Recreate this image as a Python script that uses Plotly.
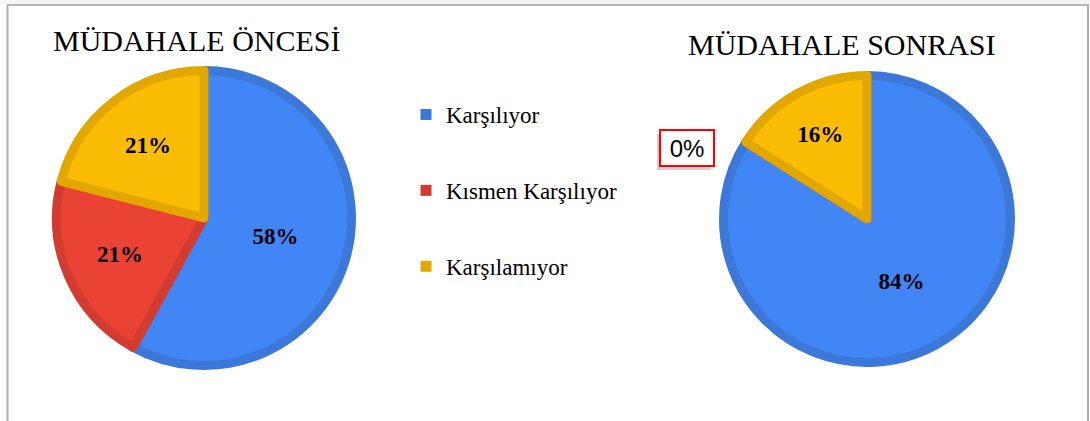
import plotly.graph_objects as go

categories = ["Karşılıyor", "Kısmen Karşılıyor", "Karşılamıyor"]
before_values = [58, 21, 21]
after_values = [84, 0, 16]
titles = ["MÜDAHALE ÖNCESİ", "MÜDAHALE SONRASI"]

fill_colors = ["#4285F4", "#EA4335", "#FBBC04"]
edge_colors = ["#3C78D8", "#D23C30", "#E2A800"]

W, H = 1090, 421
EDGE = 9


def dom(cx, cy, r):
    r = r - EDGE / 2
    return dict(x=[(cx - r) / W, (cx + r) / W], y=[(H - cy - r) / H, (H - cy + r) / H])


def pie(values, domain):
    return go.Pie(
        labels=categories,
        values=values,
        sort=False,
        direction="clockwise",
        rotation=0,
        domain=domain,
        text=[f"{v}%" if v > 0 else "" for v in values],
        textinfo="text",
        textposition="inside",
        insidetextorientation="horizontal",
        textfont=dict(family="Liberation Serif", size=23, color="black", weight="bold"),
        marker=dict(colors=fill_colors, line=dict(color=edge_colors, width=EDGE)),
        showlegend=False,
        hoverinfo="skip",
    )


fig = go.Figure()
fig.add_trace(pie(before_values, dom(204, 218, 152)))
fig.add_trace(pie(after_values, dom(867, 219, 148)))

# legend entries
for i, c in enumerate(categories):
    fig.add_trace(go.Scatter(
        x=[None], y=[None], mode="markers", name=c,
        marker=dict(symbol="square", size=11, color=edge_colors[i]),
        legendgroup=c, showlegend=True,
    ))

fig.update_layout(
    width=W, height=H,
    margin=dict(l=0, r=0, t=0, b=0),
    paper_bgcolor="white", plot_bgcolor="white",
    xaxis=dict(visible=False), yaxis=dict(visible=False),
    legend=dict(
        x=406 / W, y=1 - 93 / H, xanchor="left", yanchor="top",
        font=dict(family="Liberation Serif", size=23, color="black"),
        tracegroupgap=43, itemwidth=30, bgcolor="rgba(0,0,0,0)",
    ),
)

# titles
fig.add_annotation(x=197 / W, y=1 - 41 / H, xref="paper", yref="paper", text=titles[0],
                   xanchor="center", yanchor="middle",
                   showarrow=False, font=dict(family="Liberation Serif", size=30, color="black"))
fig.add_annotation(x=842 / W, y=1 - 44 / H, xref="paper", yref="paper", text=titles[1],
                   xanchor="center", yanchor="middle",
                   showarrow=False, font=dict(family="Liberation Serif", size=30, color="black"))

# zero-value callout for the "Kısmen Karşılıyor" slice after intervention
zero_text = f"{after_values[1]}%"
bx, by = 687 / W, 1 - 148 / H
fig.add_annotation(x=bx, y=by, xref="paper", yref="paper", text=" ", showarrow=False,
                   xanchor="center", yanchor="middle", xshift=-3, yshift=-4, width=44, height=26,
                   bgcolor="rgba(0,0,0,0.18)", borderpad=4, borderwidth=2, bordercolor="rgba(0,0,0,0)")
fig.add_annotation(x=bx, y=by, xref="paper", yref="paper", text=zero_text, showarrow=False,
                   xanchor="center", yanchor="middle", width=44, height=26,
                   font=dict(family="Liberation Sans", size=24, color="black"),
                   bgcolor="white", borderpad=4, borderwidth=2, bordercolor="#FF0000")

# frame
fig.add_shape(type="rect", xref="paper", yref="paper", x0=0, x1=1, y0=1 - 5 / H, y1=1,
              line=dict(width=0), fillcolor="#F4F4F4", layer="below")
fig.add_shape(type="line", xref="paper", yref="paper", x0=7 / W, x1=1089 / W, y0=1 - 5 / H, y1=1 - 5 / H,
              line=dict(color="#A0A0A0", width=1.5))
fig.add_shape(type="line", xref="paper", yref="paper", x0=7.5 / W, x1=7.5 / W, y0=0, y1=1 - 5 / H,
              line=dict(color="#B0B0B0", width=2))
fig.add_shape(type="line", xref="paper", yref="paper", x0=1088 / W, x1=1088 / W, y0=0, y1=1 - 5 / H,
              line=dict(color="#B0B0B0", width=2))

fig.write_html("out.html", config={"displayModeBar": False},
               post_script="document.body.style.margin='0';")
